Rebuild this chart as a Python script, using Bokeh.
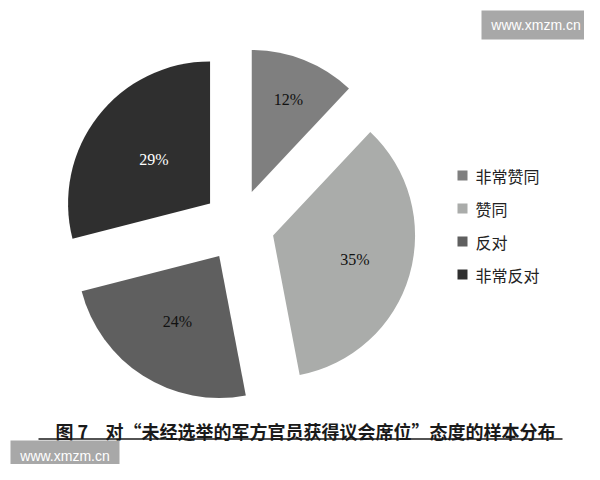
import math
from bokeh.plotting import figure
from bokeh.models import Range1d, ColumnDataSource
from bokeh.core.properties import value
from bokeh.embed import file_html
from bokeh.resources import INLINE

# ---- data ----
categories = ["非常赞同", "赞同", "反对", "非常反对"]
shares = [12, 35, 24, 29]
labels = ["12%", "35%", "24%", "29%"]
colors = ["#7f7f7f", "#aaacaa", "#5f5f5f", "#2f2f2f"]
label_colors = ["#111111", "#111111", "#111111", "#ffffff"]
title_num = "图 7"
title_text = "对“未经选举的军方官员获得议会席位”态度的样本分布"
watermark = "www.xmzm.cn"

# ---- styles / layout ----
W, H = 584, 464
CX, CY = 238, 480 - 225      # pie centre (data units = px)
R = 142
EXPLODE = 36
label_frac = [0.70, 0.60, 0.55, 0.50]

p = figure(width=W, height=H, output_backend="svg", toolbar_location=None,
           x_range=Range1d(0, 584), y_range=Range1d(16, 480),
           min_border=0, outline_line_color=None)
p.axis.visible = False
p.grid.visible = False
p.background_fill_color = "white"
p.border_fill_color = "white"

total = float(sum(shares))
xs, ys, sa, ea, lx, ly = [], [], [], [], [], []
cum = 0.0
for i, v in enumerate(shares):
    f0 = cum / total
    f1 = (cum + v) / total
    mid = (f0 + f1) / 2
    th = math.pi / 2 - 2 * math.pi * mid
    ax = CX + EXPLODE * math.cos(th)
    ay = CY + EXPLODE * math.sin(th)
    xs.append(ax); ys.append(ay)
    sa.append(math.pi / 2 - 2 * math.pi * f0)
    ea.append(math.pi / 2 - 2 * math.pi * f1)
    lx.append(ax + label_frac[i] * R * math.cos(th))
    ly.append(ay + label_frac[i] * R * math.sin(th))
    cum += v

src = ColumnDataSource(dict(x=xs, y=ys, sa=sa, ea=ea, color=colors,
                            lx=lx, ly=ly, label=labels, lc=label_colors))
p.wedge(x="x", y="y", radius=R, start_angle="sa", end_angle="ea",
        direction="clock", fill_color="color", line_color=None, source=src)
p.text(x="lx", y="ly", text="label", text_color="lc", source=src,
       text_font=value("Liberation Serif"), text_font_size="16px",
       text_align="center", text_baseline="middle")

# legend (manual)
leg_x = 462
leg_y0 = 480 - 175
leg_dy = 33
lsrc = ColumnDataSource(dict(
    x=[leg_x] * len(categories),
    y=[leg_y0 - i * leg_dy for i in range(len(categories))],
    tx=[leg_x + 13] * len(categories),
    cat=categories, color=colors))
p.scatter(x="x", y="y", marker="square", size=10, fill_color="color",
          line_color=None, source=lsrc)
p.text(x="tx", y="y", text="cat", source=lsrc, text_color="#222222",
       text_font=value("Noto Sans CJK SC"), text_font_size="16px",
       text_align="left", text_baseline="middle")

# caption
TY = 480 - 430
p.text(x=[55], y=[TY], text=[title_num], text_color="#1a1a1a",
       text_font=value("Noto Sans CJK SC"), text_font_size="18px",
       text_font_style="bold", text_align="left", text_baseline="middle")
p.text(x=[105], y=[TY], text=[title_text], text_color="#1a1a1a",
       text_font=value("Noto Sans CJK SC"), text_font_size="18px",
       text_font_style="bold", text_align="left", text_baseline="middle")
p.segment(x0=[38], y0=[480 - 438.5], x1=[562], y1=[480 - 438.5],
          line_color="#1a1a1a", line_width=1.5)

# watermark boxes
p.quad(left=[481, 10], right=[590, 119], top=[480 - 10, 480 - 440],
       bottom=[480 - 39, 480 - 470], fill_color="#a8a8a8", line_color=None)
p.text(x=[535.5, 64.5], y=[480 - 24.5, 480 - 455], text=[watermark, watermark],
       text_color="white", text_font=value("Liberation Sans"),
       text_font_size="14px", text_align="center", text_baseline="middle")

open("out.html", "w").write(file_html(p, INLINE))
